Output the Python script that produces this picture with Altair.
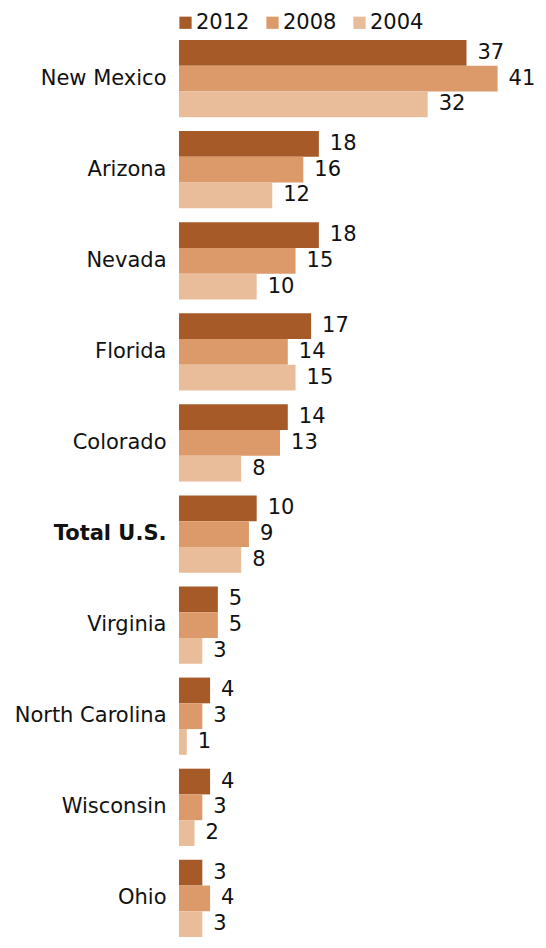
import altair as alt
import pandas as pd

states = ["New Mexico", "Arizona", "Nevada", "Florida", "Colorado", "Total U.S.",
          "Virginia", "North Carolina", "Wisconsin", "Ohio"]
years = ["2012", "2008", "2004"]
v2012 = [37, 18, 18, 17, 14, 10, 5, 4, 4, 3]
v2008 = [41, 16, 15, 14, 13, 9, 5, 3, 3, 4]
v2004 = [32, 12, 10, 15, 8, 8, 3, 1, 2, 3]
colors = ["#A65A28", "#DC9A6B", "#E9BC9A"]

rows = []
for i, s in enumerate(states):
    for y, vals in zip(years, [v2012, v2008, v2004]):
        rows.append({"state": s, "year": y, "value": vals[i]})
df = pd.DataFrame(rows)

font = "DejaVu Sans"
fs = 21

base = alt.Chart(df).encode(
    y=alt.Y("state:N", sort=states,
            scale=alt.Scale(paddingInner=0.152, paddingOuter=0),
            axis=alt.Axis(title=None, ticks=False, domain=False, grid=False, labelFontSize=fs,
                          labelColor="#111", labelPadding=13, labelLimit=300,
                          labelFont=font,
                          labelFontWeight=alt.ExprRef("datum.value == 'Total U.S.' ? 'bold' : 'normal'"))),
    yOffset=alt.YOffset("year:N", sort=years, scale=alt.Scale(paddingInner=0, paddingOuter=0)),
)

xscale = alt.Scale(domain=[0, 46.2])

bars = base.mark_bar().encode(
    x=alt.X("value:Q", scale=xscale, axis=None),
    color=alt.Color("year:N", sort=years,
                    scale=alt.Scale(domain=years, range=colors),
                    legend=alt.Legend(title=None, orient="none", legendX=-4, legendY=-28,
                                      direction="horizontal", symbolType="square",
                                      symbolSize=150, symbolStrokeWidth=0,
                                      labelFontSize=fs, labelFont=font, labelColor="#111",
                                      columnPadding=12, labelOffset=0)),
)

labels = base.mark_text(align="left", baseline="middle", dx=11, fontSize=fs,
                        font=font, color="#111").encode(
    x=alt.X("value:Q", scale=xscale, axis=None),
    text=alt.Text("value:Q"),
)

chart = (bars + labels).properties(
    width=359, height=897,
    autosize=alt.AutoSizeParams(type="none"),
    padding={"left": 171, "top": 32, "right": 0, "bottom": 0},
).configure(font=font).configure_view(stroke=None)

chart.save("out.html", embed_options={"renderer": "svg", "actions": False})
